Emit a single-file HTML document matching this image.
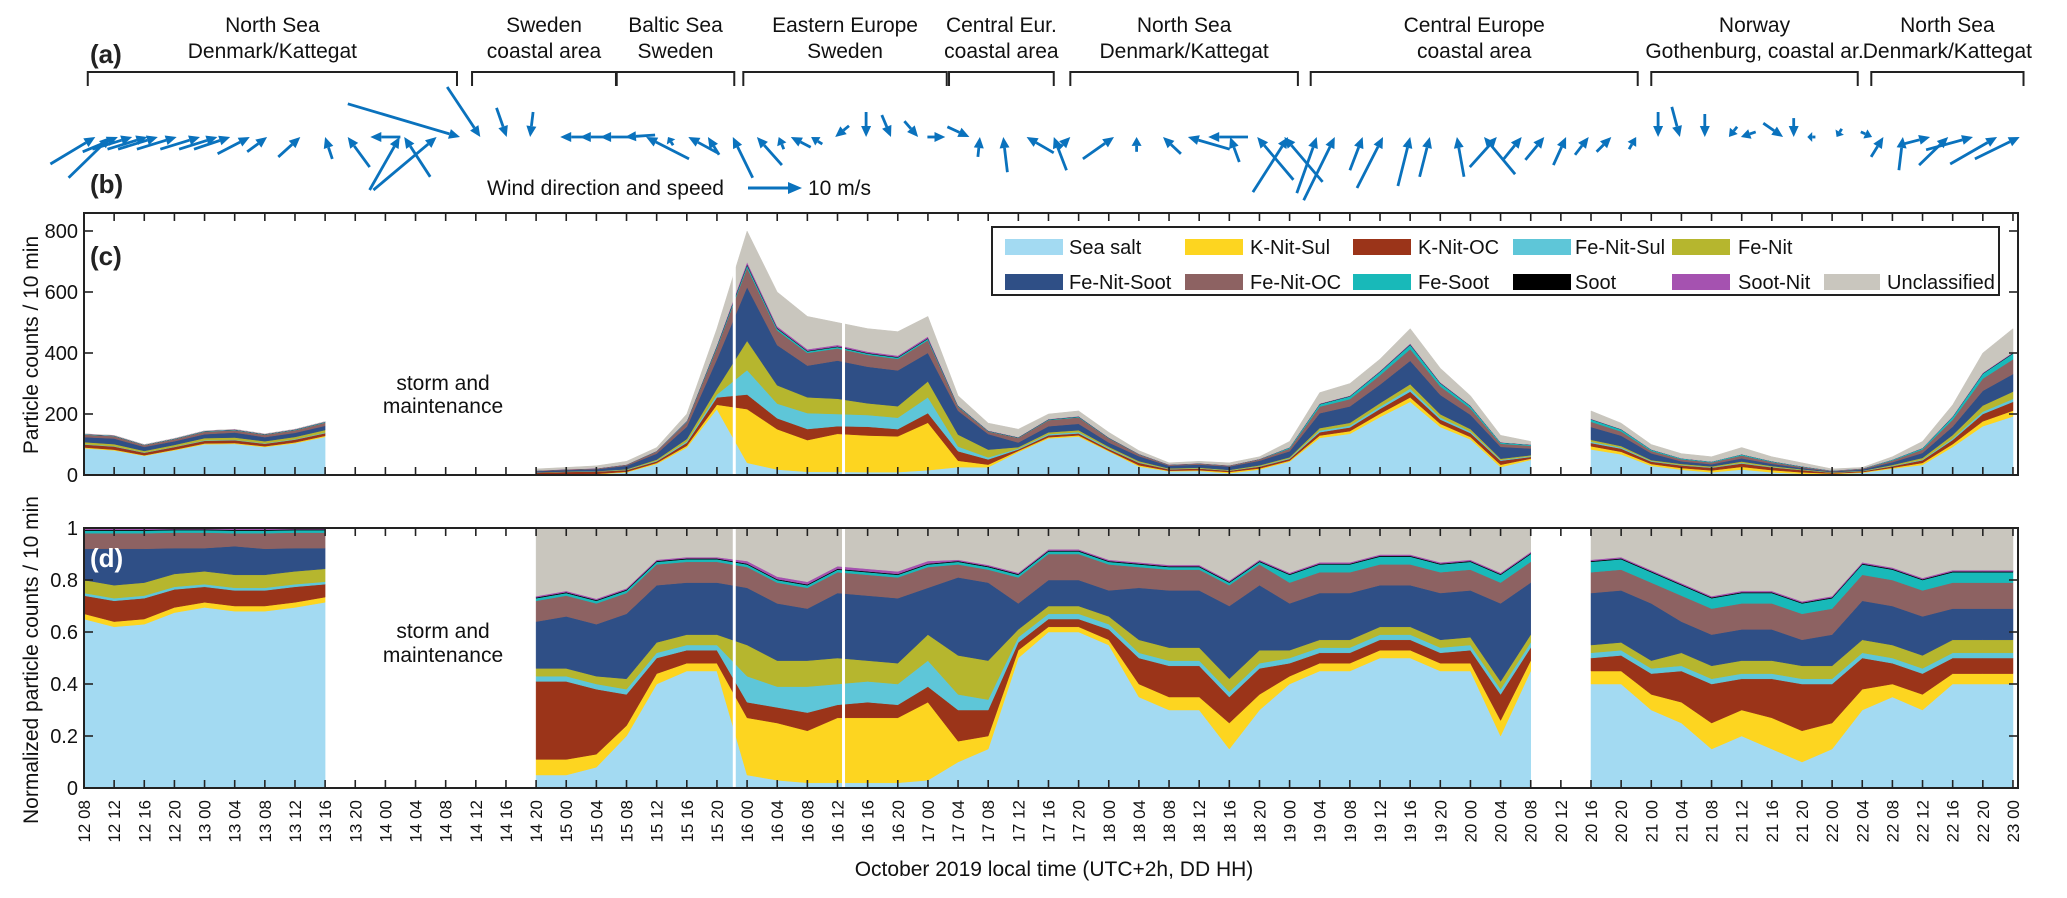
<!DOCTYPE html>
<html><head><meta charset="utf-8"><style>
html,body{margin:0;padding:0;background:#fff;}
svg{display:block;font-family:"Liberation Sans",Arial,sans-serif;}
</style></head><body>
<svg id="chart" width="2067" height="898" viewBox="0 0 2067 898" xmlns="http://www.w3.org/2000/svg">
<g id="regions"></g>
<text x="90" y="63" font-size="26" font-weight="bold" fill="#222">(a)</text>
<text x="90" y="193" font-size="26" font-weight="bold" fill="#222">(b)</text>
<g id="wind"></g>
<g>
<text x="487" y="195" font-size="21" fill="#111">Wind direction and speed</text>
<line x1="748" y1="188" x2="790" y2="188" stroke="#0a72bd" stroke-width="3"/>
<polygon points="802,188 788,182 788,194" fill="#0a72bd"/>
<text x="808" y="195" font-size="21" fill="#111">10 m/s</text>
</g>
<g id="panelC"></g>
<g id="panelD"></g>
<g id="xlabels"></g>
<text x="1054" y="876" font-size="21" text-anchor="middle" fill="#111">October 2019 local time (UTC+2h, DD HH)</text>
<text transform="translate(38,345) rotate(-90)" font-size="21" text-anchor="middle" fill="#111">Particle counts / 10 min</text>
<text transform="translate(38,660) rotate(-90)" font-size="21" text-anchor="middle" fill="#111">Normalized particle counts / 10 min</text>
<g id="legend"></g>
</svg>
<script>
const N = null;
const timeHours = [0,4,8,12,16,20,24,28,32,36,40,44,48,52,56,60,64,68,72,76,80,84,88,92,96,100,104,108,112,116,120,124,128,132,136,140,144,148,152,156,160,164,168,172,176,180,184,188,192,196,200,204,208,212,216,220,224,228,232,236,240,244,248,252,256];
const totalCounts = [135,130,100,120,145,150,135,150,175, N,N,N,N,N,N, 20,25,30,45,90,200,480,800,600,520, 500,480,470,520,260,170,150,200,210,140, 80,40,45,40,60,110,270,300,380,480, 350,260,130,110, N, 210,170,100,70,60,90,60,40,20,25,60,110,230,400,480];
const seaSalt = [.65,.62,.63,.68,.7,.68,.68,.7,.72, N,N,N,N,N,N, .05,.05,.08,.2,.4,.45,.45,.05,.03,.02, .02,.02,.02,.03,.1,.15,.5,.6,.6,.55, .35,.3,.3,.15,.3,.4,.45,.45,.5,.5, .45,.45,.2,.45, N, .4,.4,.3,.25,.15,.2,.15,.1,.15,.3,.35,.3,.4,.4,.4];
const kNitSul = [.02,.02,.02,.02,.02,.02,.02,.02,.02, N,N,N,N,N,N, .06,.06,.05,.04,.04,.03,.03,.22,.22,.2, .25,.25,.25,.3,.08,.05,.03,.02,.02,.02, .05,.05,.05,.1,.06,.03,.03,.03,.03,.03, .03,.03,.06,.04, N, .05,.05,.06,.08,.1,.1,.12,.12,.1,.08,.05,.06,.04,.04,.04];
const kNitOC = [.07,.08,.08,.07,.06,.06,.06,.06,.05, N,N,N,N,N,N, .3,.3,.25,.12,.06,.05,.05,.06,.06,.07, .05,.06,.05,.06,.12,.1,.03,.03,.03,.04, .1,.12,.12,.1,.1,.05,.04,.04,.04,.04, .04,.05,.1,.05, N, .05,.06,.08,.12,.15,.12,.15,.18,.15,.12,.08,.08,.06,.06,.06];
const feNitSul = [.01,.01,.01,.01,.01,.01,.01,.01,.01, N,N,N,N,N,N, .02,.02,.02,.02,.02,.02,.02,.1,.08,.1, .08,.08,.08,.1,.06,.04,.02,.02,.02,.02, .02,.02,.02,.02,.02,.02,.02,.02,.02,.02, .02,.02,.02,.02, N, .02,.02,.02,.02,.02,.02,.02,.02,.02,.02,.02,.02,.02,.02,.02];
const feNit = [.05,.05,.05,.05,.05,.05,.05,.05,.05, N,N,N,N,N,N, .03,.03,.03,.04,.04,.04,.04,.12,.1,.1, .1,.08,.08,.1,.15,.15,.03,.03,.03,.03, .05,.05,.05,.05,.05,.03,.03,.03,.03,.03, .03,.03,.03,.03, N, .03,.03,.03,.05,.05,.05,.05,.05,.05,.05,.05,.05,.05,.05,.05];
const feNitSoot = [.12,.14,.13,.1,.09,.11,.1,.09,.08, N,N,N,N,N,N, .18,.2,.2,.25,.22,.2,.2,.22,.22,.2, .25,.25,.25,.18,.3,.3,.1,.1,.1,.1, .2,.22,.22,.28,.25,.18,.18,.18,.16,.16, .18,.18,.3,.2, N, .2,.2,.22,.12,.12,.12,.12,.1,.12,.15,.15,.15,.12,.12,.12];
const feNitOC = [.06,.06,.06,.06,.06,.05,.06,.06,.06, N,N,N,N,N,N, .08,.08,.08,.08,.08,.08,.08,.08,.08,.08, .08,.08,.08,.08,.05,.05,.1,.1,.1,.1, .08,.08,.08,.08,.08,.08,.08,.08,.08,.08, .08,.08,.08,.08, N, .08,.08,.08,.1,.1,.1,.1,.1,.1,.1,.1,.1,.1,.1,.1];
const feSoot = [.01,.01,.01,.01,.01,.01,.01,.01,.01, N,N,N,N,N,N, .01,.01,.01,.01,.01,.01,.01,.01,.01,.01, .01,.01,.01,.01,.01,.01,.01,.01,.01,.01, .01,.01,.01,.01,.01,.03,.03,.03,.03,.03, .03,.03,.03,.03, N, .04,.04,.04,.04,.04,.04,.04,.04,.04,.04,.04,.04,.04,.04,.04];
const soot = [.003,.003,.003,.003,.003,.003,.003,.003,.003, N,N,N,N,N,N, .003,.003,.003,.003,.003,.003,.003,.003,.003,.003, .003,.003,.003,.003,.003,.003,.003,.003,.003,.003, .003,.003,.003,.003,.003,.003,.003,.003,.003,.003, .003,.003,.003,.003, N, .003,.003,.003,.003,.003,.003,.003,.003,.003,.003,.003,.003,.003,.003,.003];
const sootNit = [.005,.005,.005,.005,.005,.005,.005,.005,.005, N,N,N,N,N,N, .005,.005,.005,.005,.005,.005,.005,.01,.01,.01, .01,.01,.01,.01,.005,.005,.005,.005,.005,.005, .005,.005,.005,.005,.005,.005,.005,.005,.005,.005, .005,.005,.005,.005, N, .005,.005,.005,.005,.005,.005,.005,.005,.005,.005,.005,.005,.005,.005,.005];
const gapLineHours = [86.3, 100.8];
const classNames = ["Sea salt","K-Nit-Sul","K-Nit-OC","Fe-Nit-Sul","Fe-Nit","Fe-Nit-Soot","Fe-Nit-OC","Fe-Soot","Soot","Soot-Nit","Unclassified"];
const classColors = ["#a3daf2","#fdd520","#9b3419","#5ec6d8","#b6b62e","#2f4f86","#8d6262","#18b9b9","#000000","#a552b0","#c9c6be"];
const countTicks = [0,200,400,600,800];
const normTicks = [0,0.2,0.4,0.6,0.8,1];
const normTickLabels = ["0","0.2","0.4","0.6","0.8","1"];
const xTickLabels = ["12 08","12 12","12 16","12 20","13 00","13 04","13 08","13 12","13 16","13 20","14 00","14 04","14 08","14 12","14 16","14 20","15 00","15 04","15 08","15 12","15 16","15 20","16 00","16 04","16 08","16 12","16 16","16 20","17 00","17 04","17 08","17 12","17 16","17 20","18 00","18 04","18 08","18 12","18 16","18 20","19 00","19 04","19 08","19 12","19 16","19 20","20 00","20 04","20 08","20 12","20 16","20 20","21 00","21 04","21 08","21 12","21 16","21 20","22 00","22 04","22 08","22 12","22 16","22 20","23 00"];
const regionLine1 = ["North Sea","Sweden","Baltic Sea","Eastern Europe","Central Eur.","North Sea","Central Europe","Norway","North Sea"];
const regionLine2 = ["Denmark/Kattegat","coastal area","Sweden","Sweden","coastal area","Denmark/Kattegat","coastal area","Gothenburg, coastal ar.","Denmark/Kattegat"];
const regionStartHour = [0.5,51.5,70.7,87.5,114.8,130.9,162.8,208,237.2];
const regionEndHour = [49.5,70.6,86.3,114.5,128.7,161.1,206.2,235.4,257.4];
const windHour = [1.5,3.5,4.5,6.4,8.4,9.8,12.3,15.4,17.7,19.4,22.0,24.3,28.7,32.0,35.0,38.0,41.9,42.5,46.8,49.9,52.6,56.1,59.2,63.2,65.8,68.5,71.8,74.6,77.5,80.2,82.8,86.1,89.3,92.2,93.8,96.5,99.7,103.8,107.1,110.7,114.3,117.5,118.9,122.0,125.1,128.7,130.9,136.7,139.7,143.2,146.5,149.2,152.1,155.7,159.8,159.3,163.6,166.0,169.7,172.4,176.0,178.6,182.2,185.8,187.5,190.8,193.8,196.7,199.7,202.7,206.0,208.9,211.8,215.1,218.3,219.9,225.5,226.9,228.7,232.6,237.3,238.8,241.4,245.0,247.4,250.7,253.9,256.9];
const windU = [8.8,8.2,6.9,7.8,7.8,7.8,7.8,7.8,7.5,7.1,6.3,3.9,4.3,-1.4,-4.3,-5.9,5.9,-5.1,12.4,22,6.5,2,-0.6,-5.9,-5.9,-5.9,-5.9,-8.4,-1,-5.7,-2.2,-3.9,-4.9,-1,-3.9,-2.2,-2.7,0,1.8,2.7,3.5,4.3,0.4,-0.8,-5.3,-2.5,2.5,6.1,0,-3.5,-8.2,-7.8,-1.8,-7.1,6.9,-7.5,3.9,6.1,2.5,5.1,2.4,2,-1.4,-6.1,5.3,3.5,3.7,2.5,2.7,2.9,1.4,0,1.6,0,-1.6,-2.9,3.9,0,-1.6,-1,2.2,2.4,0.8,6.1,5.7,9.2,9.2,8.8];
const windV = [5.3,8,2.9,2.4,2.4,2.4,2.4,2.4,2.4,2.4,3.3,2.9,3.9,4.3,5.9,0,10.4,7.8,10.4,-6.5,-9.8,-5.7,-4.9,0,0,0,-0.4,4.3,1.6,3.1,3.5,8,5.5,2.4,2,1.4,-2.2,-4.9,-4.3,-3.1,0,-2,3.9,6.9,3.1,6.5,2.5,4.3,2.9,3.3,2.4,0,4.9,8.4,10.8,8.8,11,12.4,6.5,10,9.6,7.8,7.8,7.3,5.9,4.3,4.5,5.5,3.5,2.9,2.4,-4.9,-5.9,-4.5,-2,-1,-2.7,-3.7,0,-1.6,-1,3.9,6.5,1.6,5.5,2.5,5.3,4.3];

const SVGNS = "http://www.w3.org/2000/svg";
function mk(tag, attrs, parent){ const e=document.createElementNS(SVGNS,tag); for(const k in attrs) e.setAttribute(k,attrs[k]); parent.appendChild(e); return e; }
const X0=84, PXH=7.535, AX_RIGHT=2018;
function xScale(h){ return X0 + h*PXH; }
const C_TOP=213, C_BOT=475, C_MAX=859;
function yC(v){ return C_BOT - v*(C_BOT-C_TOP)/C_MAX; }
const D_TOP=528, D_BOT=788;
function yD(f){ return D_BOT - f*(D_BOT-D_TOP); }

const fractions = [seaSalt,kNitSul,kNitOC,feNitSul,feNit,feNitSoot,feNitOC,feSoot,soot,sootNit];
function fracAt(k,i){
  let s=0; for(const a of fractions) s+=a[i];
  const norm = s>1 ? 1/s : 1;
  if(k<fractions.length) return fractions[k][i]*norm;
  return Math.max(0,1-s);
}
const segments=[]; let cur=null;
for(let i=0;i<timeHours.length;i++){
  if(totalCounts[i]===null){ cur=null; continue; }
  if(!cur){ cur=[]; segments.push(cur); }
  cur.push(i);
}
function drawPanel(g, yfun, useCounts, prefix){
  for(const seg of segments){
    const cum = seg.map(()=>0);
    for(let k=0;k<classNames.length;k++){
      const lo = cum.slice();
      seg.forEach((i,j)=>{ const f=fracAt(k,i); cum[j]+= useCounts ? f*totalCounts[i] : f; });
      let pts=[];
      seg.forEach((i,j)=>pts.push(xScale(timeHours[i]).toFixed(1)+","+yfun(cum[j]).toFixed(1)));
      for(let j=seg.length-1;j>=0;j--) pts.push(xScale(timeHours[seg[j]]).toFixed(1)+","+yfun(lo[j]).toFixed(1));
      const p=mk("polygon",{points:pts.join(" "),fill:classColors[k],stroke:classColors[k],"stroke-width":"0.5"},g);
      
      
    }
  }
  const top = useCounts ? C_TOP : D_TOP, bot = useCounts ? C_BOT : D_BOT;
  for(const gh of gapLineHours){
    const l=mk("line",{x1:xScale(gh),x2:xScale(gh),y1:top,y2:bot,stroke:"#fff","stroke-width":"3"},g);
    
    
  }
  const box=mk("rect",{x:X0,y:top,width:AX_RIGHT-X0,height:bot-top,fill:"none",stroke:"#222","stroke-width":"2"},g);
  
  
  for(let t=0;t<xTickLabels.length;t++){
    const x=xScale(t*4);
    const a=mk("line",{x1:x,x2:x,y1:bot,y2:bot-8,stroke:"#222","stroke-width":"1.6"},g);
    
    
    const b=mk("line",{x1:x,x2:x,y1:top,y2:top+8,stroke:"#222","stroke-width":"1.6"},g);
    
    
  }
  const ticks = useCounts ? countTicks : normTicks;
  ticks.forEach((v,idx)=>{
    const y=yfun(v);
    const a=mk("line",{x1:X0,x2:X0+9,y1:y,y2:y,stroke:"#222","stroke-width":"1.6"},g);
    
    
    const b=mk("line",{x1:AX_RIGHT,x2:AX_RIGHT-9,y1:y,y2:y,stroke:"#222","stroke-width":"1.6"},g);
    
    
    const tx=mk("text",{x:X0-6,y:y+7,"font-size":"20","text-anchor":"end",fill:"#111"},g);
    tx.textContent = useCounts ? String(v) : normTickLabels[idx];
    
    
  });
}
const gC=document.getElementById("panelC"), gD=document.getElementById("panelD");
drawPanel(gC, yC, true, "panel-c");
drawPanel(gD, yD, false, "panel-d");
[[gC,265,"#222","(c)",390,413],[gD,567,"#fff","(d)",638,662]].forEach(([g,yb,col,lab,s1,s2])=>{
  const t=mk("text",{x:90,y:yb,"font-size":"26","font-weight":"bold",fill:col},g);
  t.textContent=lab;
  
  
  const a=mk("text",{x:443,y:s1,"font-size":"21","text-anchor":"middle",fill:"#111"},g);
  a.textContent="storm and";
  
  
  const b=mk("text",{x:443,y:s2,"font-size":"21","text-anchor":"middle",fill:"#111"},g);
  b.textContent="maintenance";
  
  
});
const gx=document.getElementById("xlabels");
xTickLabels.forEach((lab,t)=>{
  const x=xScale(t*4)+6;
  const e=mk("text",{transform:"translate("+x.toFixed(1)+",800) rotate(-90)","font-size":"17","text-anchor":"end",fill:"#111"},gx);
  e.textContent=lab;
  
  
});
const gr=document.getElementById("regions");
regionLine1.forEach((l1,i)=>{
  const xa=xScale(regionStartHour[i]), xb=xScale(regionEndHour[i]), xm=(xa+xb)/2;
  const p=mk("path",{d:"M"+xa+",86 V72 H"+xb+" V86",fill:"none",stroke:"#222","stroke-width":"2"},gr);
  
  
  const t1=mk("text",{x:xm,y:32,"font-size":"21","text-anchor":"middle",fill:"#111"},gr);
  t1.textContent=l1;
  
  
  const t2=mk("text",{x:xm,y:58,"font-size":"21","text-anchor":"middle",fill:"#111"},gr);
  t2.textContent=regionLine2[i];
  
  
});
const gw=document.getElementById("wind"); const WS=5.1, TIPY=137;
windHour.forEach((h,i)=>{
  const tx=xScale(h), ty=TIPY, dx=windU[i]*WS, dy=-windV[i]*WS;
  const sx=tx-dx, sy=ty-dy, L=Math.hypot(dx,dy)||1, ux=dx/L, uy=dy/L;
  const hl=Math.min(11,L*0.6), hw=5;
  const bx=tx-ux*hl, by=ty-uy*hl;
  const ln=mk("line",{x1:sx.toFixed(1),y1:sy.toFixed(1),x2:bx.toFixed(1),y2:by.toFixed(1),stroke:"#0a72bd","stroke-width":"2.8"},gw);
  
  
  const pts=[tx,ty,bx-uy*hw,by+ux*hw,bx+uy*hw,by-ux*hw].map(v=>v.toFixed(1));
  const hd=mk("polygon",{points:pts[0]+","+pts[1]+" "+pts[2]+","+pts[3]+" "+pts[4]+","+pts[5],fill:"#0a72bd"},gw);
  
  
});
const gl=document.getElementById("legend");
const lb=mk("rect",{x:992,y:227,width:1007,height:68,fill:"#fff",stroke:"#222","stroke-width":"2"},gl);


const legSwX=[1005,1185,1353,1513,1672,1005,1185,1353,1513,1672,1824];
const legTxX=[1069,1250,1418,1575,1738,1069,1250,1418,1575,1738,1887];
classNames.forEach((nm,k)=>{
  const row = (k<5)?0:1, yc = row? 282:247;
  const w = (k===10)?56:58;
  const r=mk("rect",{x:legSwX[k],y:yc-8,width:w,height:16,fill:classColors[k]},gl);
  
  
  const t=mk("text",{x:legTxX[k],y:yc+7,"font-size":"20",fill:"#111"},gl);
  t.textContent=nm;
  
  
});
</script>
</body></html>
